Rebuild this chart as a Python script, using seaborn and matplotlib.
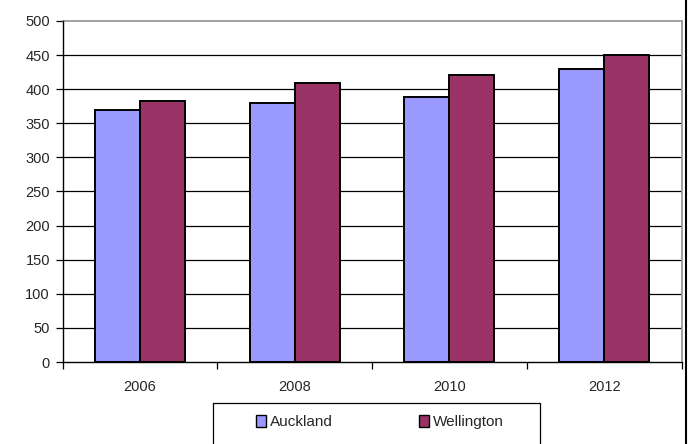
import matplotlib
matplotlib.use("Agg")
import matplotlib.pyplot as plt
import seaborn as sns
import pandas as pd
from matplotlib.patches import Rectangle
from matplotlib.lines import Line2D

years = ["2006", "2008", "2010", "2012"]
auckland = [370, 380, 388, 430]
wellington = [382, 409, 421, 450]
series_names = ["Auckland", "Wellington"]
colors = ["#9999FF", "#993366"]
y_ticks = list(range(0, 501, 50))

df = pd.DataFrame({
    "year": years * 2,
    "value": auckland + wellington,
    "city": [series_names[0]] * 4 + [series_names[1]] * 4,
})

sns.set_style("white")
plt.rcParams["font.family"] = ["Liberation Sans", "DejaVu Sans"]

W, H = 688, 444
fig = plt.figure(figsize=(W / 100, H / 100), dpi=100)
L, R, T, B = 62.5, 681.5, 21, 362
ax = fig.add_axes([L / W, 1 - B / H, (R - L) / W, (B - T) / H])

sns.barplot(data=df, x="year", y="value", hue="city", palette=colors,
            saturation=1, width=0.58, edgecolor="black", linewidth=1.4, ax=ax,
            legend=False, zorder=3)

ax.set_xlim(-0.5, 3.5)
ax.set_ylim(0, 500)
ax.set_yticks(y_ticks)
ax.set_yticklabels([str(v) for v in y_ticks], fontsize=10.5)
for v in y_ticks[1:-1]:
    ax.axhline(v, color="black", lw=0.9, zorder=1)

ax.set_xticks(range(len(years)))
ax.set_xticklabels(years, fontsize=10.5)
ax.tick_params(axis="x", length=0, pad=13)
ax.tick_params(axis="y", length=5, width=0.9, color="black", direction="out", left=True, pad=4)
ax.set_xticks([-0.5, 0.5, 1.5, 2.5, 3.5], minor=True)
ax.tick_params(axis="x", which="minor", length=5, width=0.9, color="black", direction="out", bottom=True)

ax.set_xlabel("")
ax.set_ylabel("")
for side in ["top", "right"]:
    ax.spines[side].set_color("#999999")
    ax.spines[side].set_linewidth(1.3)
for side in ["left", "bottom"]:
    ax.spines[side].set_color("black")
    ax.spines[side].set_linewidth(1.0)
    ax.spines[side].set_zorder(4)

fig.add_artist(Line2D([686 / W, 686 / W], [0, 1], color="black", lw=1.5,
                      transform=fig.transFigure))

fig.add_artist(Rectangle((213 / W, 1 - 460 / H), (540 - 213) / W, (460 - 403) / H,
                         transform=fig.transFigure, facecolor="white",
                         edgecolor="black", lw=0.9))
handles = [Rectangle((0, 0), 1, 1, facecolor=c, edgecolor="black", lw=1.0) for c in colors]
fig.legend(handles, series_names, loc="center", bbox_to_anchor=(380 / W, 1 - 422 / H),
           ncol=2, frameon=False, fontsize=11, handlelength=0.65, handleheight=0.8,
           handletextpad=0.3, columnspacing=5.6)

fig.savefig("out.png", dpi=100)
